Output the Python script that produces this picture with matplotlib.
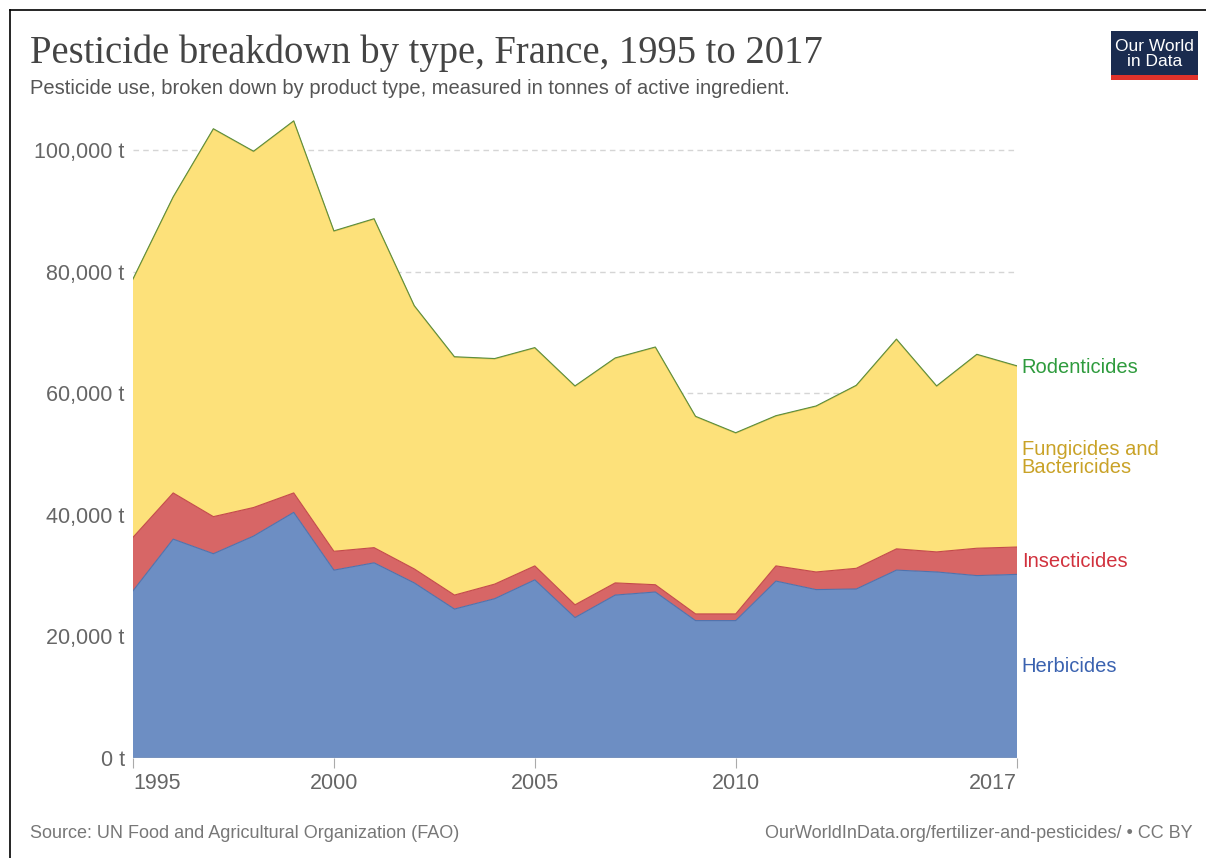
import matplotlib.pyplot as plt
from matplotlib.lines import Line2D
from matplotlib.patches import Rectangle
import numpy as np

plt.rcParams['font.family'] = ['Liberation Sans', 'DejaVu Sans']

# Data (tonnes of active ingredient)
years = list(range(1995, 2018))
herbicides = [27500, 36000, 33600, 36500, 40400, 30900, 32100, 28800, 24500, 26200, 29300,
              23100, 26800, 27300, 22600, 22600, 29100, 27700, 27800, 30900, 30600, 30000, 30200]
insecticides = [8800, 7600, 6100, 4700, 3200, 3100, 2500, 2300, 2300, 2400, 2300,
                2100, 2000, 1200, 1100, 1100, 2500, 2900, 3400, 3500, 3300, 4500, 4500]
totals = [78800, 92300, 103500, 99800, 104800, 86700, 88700, 74400, 66000, 65700, 67500,
          61200, 65800, 67600, 56200, 53500, 56300, 57900, 61300, 68900, 61200, 66400, 64500]
rodenticides = [100] * len(years)
fungicides = [t - h - i - r for t, h, i, r in zip(totals, herbicides, insecticides, rodenticides)]

series_names = ["Herbicides", "Insecticides", "Fungicides and\nBactericides", "Rodenticides"]
fill_colors = ["#6d8ec3", "#d76666", "#fde17a", "#5aa05a"]
edge_colors = ["#4f72ad", "#c44a4a", "#e8c85a", "#5d8f3e"]
label_colors = ["#3a62b0", "#d1313d", "#c9a227", "#2e9b3d"]
yticks = [0, 20000, 40000, 60000, 80000, 100000]
xticks = [1995, 2000, 2005, 2010, 2017]

fig = plt.figure(figsize=(12.06, 8.58), dpi=100)
ax = fig.add_axes([133 / 1206, 1 - 758 / 858, (1017 - 133) / 1206, (758 - 119.6) / 858])

stack = [herbicides, insecticides, fungicides, rodenticides]
base = np.zeros(len(years))
for vals, fc, ec in zip(stack, fill_colors, edge_colors):
    top = base + np.array(vals)
    ax.fill_between(years, base, top, facecolor=fc, edgecolor="none", zorder=2)
    ax.plot(years, top, color=ec, lw=0.8, zorder=3)
    base = top

ax.set_xlim(1995, 2017)
ax.set_ylim(0, 105000)

for y in yticks[1:]:
    ax.axhline(y, color="#d5d5d5", lw=1, ls=(0, (4, 3)), zorder=1)
ax.axhline(0, color="#aaaaaa", lw=1, zorder=4)

ax.set_yticks(yticks)
ax.set_yticklabels([f"{v:,} t" for v in yticks])
ax.set_xticks(xticks)
ax.set_xticklabels([str(x) for x in xticks])
ax.tick_params(axis="y", length=0, labelsize=15.5, labelcolor="#666666", pad=6)
ax.tick_params(axis="x", length=7, color="#aaaaaa", labelsize=15.5, labelcolor="#666666", pad=4)
xl = ax.get_xticklabels()
xl[0].set_ha("left")
xl[-1].set_ha("right")
for s in ax.spines.values():
    s.set_visible(False)

# right-side labels
label_y = [15000, 32400, 49300, 64300]
for name, ly, c in zip(series_names, label_y, label_colors):
    ax.text(2017.12, ly, name, color=c, fontsize=14.5, va="center", ha="left",
            linespacing=0.95, clip_on=False)

# titles
fig.text(30 / 1206, 1 - 53 / 858, "Pesticide breakdown by type, France, 1995 to 2017",
         fontsize=27.8, family="Liberation Serif", color="#444444", va="center", ha="left")
fig.text(30 / 1206, 1 - 88 / 858,
         "Pesticide use, broken down by product type, measured in tonnes of active ingredient.",
         fontsize=14.5, color="#555555", va="center", ha="left")
fig.text(30 / 1206, 1 - 833 / 858, "Source: UN Food and Agricultural Organization (FAO)",
         fontsize=13, color="#777777", va="center", ha="left")
fig.text(1193 / 1206, 1 - 833 / 858, "OurWorldInData.org/fertilizer-and-pesticides/ • CC BY",
         fontsize=13, color="#777777", va="center", ha="right")

# logo
fig.add_artist(Rectangle((1111 / 1206, 1 - 80 / 858), 87 / 1206, 49 / 858,
                         transform=fig.transFigure, facecolor="#1a2b4f", edgecolor="none"))
fig.add_artist(Rectangle((1111 / 1206, 1 - 80 / 858), 87 / 1206, 5 / 858,
                         transform=fig.transFigure, facecolor="#e0322b", edgecolor="none"))
fig.text(1154.5 / 1206, 1 - 54 / 858, "Our World\nin Data", fontsize=12.5, color="white",
         ha="center", va="center", linespacing=1.0)

# screenshot border
fig.add_artist(Line2D([10 / 1206, 10 / 1206], [0, 1 - 10 / 858], color="black", lw=1.2,
                      transform=fig.transFigure))
fig.add_artist(Line2D([10 / 1206, 1], [1 - 10 / 858, 1 - 10 / 858], color="black", lw=1.2,
                      transform=fig.transFigure))

fig.savefig("out.png", dpi=100)
